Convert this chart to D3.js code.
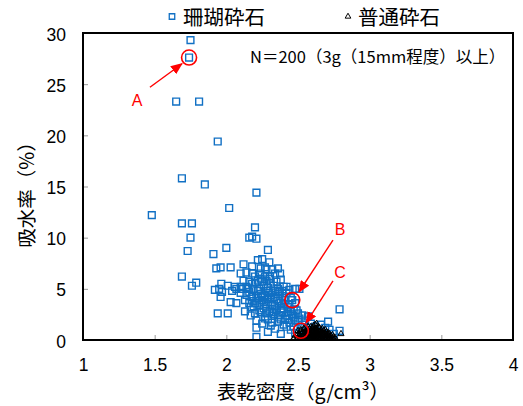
<!DOCTYPE html>
<html>
<head>
<meta charset="utf-8">
<script src="https://cdn.jsdelivr.net/npm/d3@7"></script>
<style>
  body { margin: 0; background: #fff; }
  svg { display: block; }
</style>
</head>
<body>
<script>
// Axis ticks
const xTicks = [1, 1.5, 2, 2.5, 3, 3.5, 4];
const yTicks = [0, 5, 10, 15, 20, 25, 30];

// Series names
const seriesNames = ["珊瑚砕石", "普通砕石"];

// 珊瑚砕石: [表乾密度 g/cm3, 吸水率 %]
const coralPoints = [
  [1.75,29.3],[1.74,27.6],[1.65,23.3],[1.81,23.3],[1.94,19.4],[1.69,15.8],[1.85,15.2],
  [2.21,14.4],[2.02,12.9],[1.48,12.2],[1.69,11.4],[1.76,11.4],[2.20,11.0],[1.75,10.0],
  [2.16,10.0],[2.18,10.1],[2.21,9.9],[1.73,8.7],[1.91,8.4],[2.00,9.0],[2.29,8.8],
  [2.12,7.4],[2.22,7.8],[2.25,7.9],[2.30,7.6],[2.18,7.2],[2.03,7.1],[1.93,7.0],
  [1.96,7.1],[2.28,6.9],[2.36,7.0],[1.69,6.2],[1.79,5.6],
  [2.10,6.5],[2.14,6.6],[2.18,6.5],[2.235,6.5],[2.27,6.2],[2.305,6.2],[2.34,6.5],
  [2.375,6.5],[2.20,6.2],[2.24,7.0],[2.27,7.1],[2.32,6.9],
  [1.965,5.5],[2.06,5.2],[2.10,5.2],[2.14,5.2],[2.18,5.5],[2.20,5.6],[1.76,5.3],
  [1.92,4.9],[1.95,5.0],[1.97,4.7],[2.07,5.0],[2.11,5.0],[2.15,5.0],[2.19,5.0],
  [2.23,5.0],[2.26,5.3],[2.29,5.1],[2.33,5.3],[2.36,5.0],[2.40,5.2],[2.42,5.2],
  [2.48,5.0],[2.51,5.0],
  [1.96,4.2],[2.10,4.6],[2.14,4.4],[2.18,4.2],[2.21,4.1],[2.24,4.5],[2.27,4.3],
  [2.30,4.6],[2.33,4.2],[2.36,4.5],[2.39,4.3],[2.42,4.6],[2.45,4.1],[2.46,3.9],
  [2.03,3.7],[2.07,3.6],[2.13,3.9],
  [2.22,5.8],[2.25,5.7],[2.28,5.8],[2.31,5.6],[2.35,5.7],[2.38,5.9],[2.16,5.7],
  [2.12,5.8],[2.22,4.8],[2.28,4.8],[2.34,4.8],[2.39,4.8],[2.44,4.9],[2.04,4.8],
  [2.01,5.3],[2.24,6.0],[2.30,6.0],
  [1.94,2.6],[2.01,2.6],[2.13,2.8],[2.19,3.3],[2.20,2.6],[2.21,1.9],[2.21,1.2],
  [2.21,0.3],[2.79,3.0],
  [2.16,3.6],[2.19,3.8],[2.23,3.4],[2.25,3.9],[2.28,3.5],[2.31,3.7],[2.34,3.3],
  [2.37,3.8],[2.40,3.5],[2.43,3.2],[2.48,3.6],[2.26,3.1],[2.32,3.0],[2.38,3.1],
  [2.17,2.4],[2.24,2.7],[2.27,2.3],[2.30,2.8],[2.33,2.5],[2.36,2.2],[2.39,2.7],
  [2.42,2.4],[2.45,2.8],[2.47,2.2],[2.50,2.6],[2.53,2.4],[2.29,2.0],[2.35,2.9],
  [2.41,2.0],
  [2.25,1.6],[2.31,1.4],[2.36,1.8],[2.40,1.5],[2.44,1.7],[2.47,1.3],[2.50,1.8],
  [2.53,1.5],[2.56,1.2],[2.59,1.6],[2.62,1.3],[2.66,1.5],[2.69,1.2],[2.71,1.8],
  [2.34,1.1],[2.45,1.0],
  [2.38,0.6],[2.48,0.7],[2.52,0.9],[2.55,0.5],[2.58,0.8],[2.61,0.4],[2.64,0.7],
  [2.68,0.5],[2.72,1.0],[2.75,0.6],[2.79,0.9],[2.29,0.8],
  [2.17,3.2],[2.20,3.6],[2.22,4.3],[2.26,3.7],[2.29,4.0],[2.32,3.4],[2.35,4.0],
  [2.38,3.6],[2.41,3.9],[2.44,3.5],[2.47,3.0],[2.49,2.9],[2.23,2.9],[2.28,2.6],
  [2.33,2.7],[2.37,2.4],[2.40,3.0],[2.43,2.7],[2.46,2.5],[2.48,1.9],[2.44,2.1],
  [2.38,2.0],[2.32,1.7],[2.27,2.1],[2.42,1.3],[2.51,2.1],[2.55,1.9],[2.57,2.3],
  [2.25,4.2],[2.31,4.4],[2.37,4.7],[2.16,4.7]
];

// 普通砕石: [表乾密度 g/cm3, 吸水率 %]
const normalPoints = [
  [2.47,0.1],[2.47,0.2],[2.49,0.1],[2.49,0.4],[2.50,0.2],[2.50,0.6],[2.50,0.9],
  [2.51,0.1],[2.51,0.5],[2.52,0.3],[2.52,0.8],[2.52,1.0],[2.53,0.1],[2.53,0.4],
  [2.53,0.7],[2.54,0.2],[2.54,0.5],[2.54,1.1],[2.55,0.1],[2.55,0.3],[2.55,0.8],
  [2.55,1.2],[2.56,0.2],[2.56,0.6],[2.56,1.0],[2.57,0.1],[2.57,0.4],[2.57,0.9],
  [2.57,1.3],[2.58,0.2],[2.58,0.5],[2.58,0.7],[2.58,1.1],[2.59,0.1],[2.59,0.3],
  [2.59,0.6],[2.59,1.0],[2.59,1.3],[2.60,0.2],[2.60,0.4],[2.60,0.8],[2.60,1.2],
  [2.61,0.1],[2.61,0.3],[2.61,0.5],[2.61,0.9],[2.61,1.4],[2.62,0.2],[2.62,0.6],
  [2.62,0.8],[2.62,1.1],[2.62,1.5],[2.63,0.1],[2.63,0.3],[2.63,0.7],[2.63,1.0],
  [2.63,1.6],[2.64,0.2],[2.64,0.4],[2.64,0.6],[2.64,0.9],[2.64,1.3],[2.65,0.1],
  [2.65,0.5],[2.65,0.8],[2.65,1.2],[2.66,0.2],[2.66,0.3],[2.66,0.7],[2.66,1.0],
  [2.67,0.1],[2.67,0.4],[2.67,0.6],[2.67,1.1],[2.68,0.2],[2.68,0.5],[2.68,0.9],
  [2.69,0.1],[2.69,0.3],[2.69,0.7],[2.69,1.0],[2.70,0.2],[2.70,0.4],[2.70,0.8],
  [2.71,0.1],[2.71,0.5],[2.71,0.7],[2.72,0.2],[2.72,0.3],[2.72,0.6],[2.73,0.1],
  [2.73,0.4],[2.74,0.2],[2.74,0.5],[2.75,0.1],[2.75,0.3],[2.76,0.2],[2.80,0.6]
];

// Highlighted specimens and their callouts
const calloutLabels = ["A", "B", "C"];
const calloutPoints = [[1.74, 27.6], [2.46, 3.9], [2.52, 0.9]];
const arrowStarts = [[1.467, 24.7], [2.744, 9.77], [2.744, 5.77]];
const arrowEnds = [[1.691, 27.0], [2.507, 4.69], [2.556, 1.66]];
const labelPositions = [[1.377, 23.45], [2.793, 10.85], [2.793, 6.65]];

const noteText = "N＝200（3g（15mm程度）以上）";

const W = 523, H = 406;
const margin = { top: 33, right: 10, bottom: 66, left: 83 };

const x = d3.scaleLinear().domain([1, 4]).range([margin.left, W - margin.right]);
const y = d3.scaleLinear().domain([0, 30]).range([H - margin.bottom, margin.top]);

const svg = d3.select("body").append("svg")
  .attr("width", W).attr("height", H)
  .attr("viewBox", `0 0 ${W} ${H}`);

const defs = svg.append("defs");
defs.append("clipPath").attr("id", "plot-clip")
  .append("rect")
  .attr("x", margin.left).attr("y", margin.top)
  .attr("width", W - margin.left - margin.right)
  .attr("height", H - margin.top - margin.bottom);
defs.append("marker")
  .attr("id", "arrowhead")
  .attr("markerUnits", "userSpaceOnUse")
  .attr("markerWidth", 12).attr("markerHeight", 10)
  .attr("refX", 11).attr("refY", 5)
  .attr("orient", "auto")
  .append("path")
  .attr("d", "M0,0 L12,5 L0,10 Z")
  .attr("fill", "#ff0000");

const tickFont = "'Liberation Sans', Arial, sans-serif";
const cjkFont = "'Noto Sans CJK JP', 'Noto Sans', sans-serif";

// Axes with short inward grey ticks
const xAxis = svg.append("g")
  .attr("transform", `translate(0,${H - margin.bottom})`)
  .call(d3.axisBottom(x).tickValues(xTicks).tickSizeInner(-5).tickSizeOuter(0)
    .tickPadding(19).tickFormat(d3.format("")));
const yAxis = svg.append("g")
  .attr("transform", `translate(${margin.left},0)`)
  .call(d3.axisLeft(y).tickValues(yTicks).tickSizeInner(-5).tickSizeOuter(0)
    .tickPadding(17).tickFormat(d3.format("")));

[xAxis, yAxis].forEach(g => {
  g.select(".domain").remove();
  g.selectAll(".tick line").attr("stroke", "#999").attr("stroke-width", 1);
  g.selectAll(".tick text")
    .attr("fill", "#000")
    .style("font-family", tickFont)
    .style("font-size", "17.5px");
});
yAxis.selectAll(".tick text").attr("dy", "0.4em");

// Data points
const plot = svg.append("g").attr("clip-path", "url(#plot-clip)");

const squareSym = d3.symbol().type(d3.symbolSquare).size(46);
const triangleSym = d3.symbol().type(d3.symbolTriangle).size(16);

plot.append("g").selectAll("path")
  .data(coralPoints)
  .join("path")
  .attr("d", squareSym)
  .attr("transform", d => `translate(${x(d[0])},${y(d[1])})`)
  .attr("fill", "none")
  .attr("stroke", "#1170c4")
  .attr("stroke-width", 1.4);

plot.append("g").selectAll("path")
  .data(normalPoints)
  .join("path")
  .attr("d", triangleSym)
  .attr("transform", d => `translate(${x(d[0])},${y(d[1])})`)
  .attr("fill", "none")
  .attr("stroke", "#000")
  .attr("stroke-width", 1);

// Plot frame
svg.append("rect")
  .attr("x", margin.left).attr("y", margin.top)
  .attr("width", W - margin.left - margin.right)
  .attr("height", H - margin.top - margin.bottom)
  .attr("fill", "none")
  .attr("stroke", "#000")
  .attr("stroke-width", 2);

// Callouts
const callouts = svg.append("g");
calloutPoints.forEach((p, i) => {
  callouts.append("circle")
    .attr("cx", x(p[0])).attr("cy", y(p[1])).attr("r", 7.5)
    .attr("fill", "none").attr("stroke", "#ff0000").attr("stroke-width", 1.6);
  callouts.append("line")
    .attr("x1", x(arrowStarts[i][0])).attr("y1", y(arrowStarts[i][1]))
    .attr("x2", x(arrowEnds[i][0])).attr("y2", y(arrowEnds[i][1]))
    .attr("stroke", "#ff0000").attr("stroke-width", 1.4)
    .attr("marker-end", "url(#arrowhead)");
  callouts.append("text")
    .attr("x", x(labelPositions[i][0])).attr("y", y(labelPositions[i][1]))
    .attr("text-anchor", "middle").attr("dy", "0.36em")
    .attr("fill", "#ff0000")
    .style("font-family", tickFont).style("font-size", "16px")
    .text(calloutLabels[i]);
});

// Sample-count note
svg.append("text")
  .attr("x", 250).attr("y", 63)
  .style("font-family", cjkFont).style("font-size", "16.5px")
  .attr("fill", "#000")
  .text(noteText);

// Legend
const legend = svg.append("g");
legend.append("path")
  .attr("d", d3.symbol().type(d3.symbolSquare).size(30)())
  .attr("transform", "translate(172,16.5)")
  .attr("fill", "none").attr("stroke", "#1170c4").attr("stroke-width", 1.3);
legend.append("text")
  .attr("x", 183).attr("y", 24.5)
  .style("font-family", cjkFont).style("font-size", "20.5px")
  .text(seriesNames[0]);
legend.append("path")
  .attr("d", d3.symbol().type(d3.symbolTriangle).size(14)())
  .attr("transform", "translate(348,16.5)")
  .attr("fill", "none").attr("stroke", "#000").attr("stroke-width", 1);
legend.append("text")
  .attr("x", 358).attr("y", 24.5)
  .style("font-family", cjkFont).style("font-size", "20.5px")
  .text(seriesNames[1]);

// Axis titles
svg.append("text")
  .attr("x", 303).attr("y", 399)
  .attr("text-anchor", "middle")
  .style("font-family", cjkFont).style("font-size", "19.5px")
  .text("表乾密度（g/cm³）");

svg.append("text")
  .attr("transform", "translate(34,190) rotate(-90)")
  .attr("text-anchor", "middle")
  .style("font-family", cjkFont).style("font-size", "19.5px")
  .text("吸水率（%）");
</script>
</body>
</html>
